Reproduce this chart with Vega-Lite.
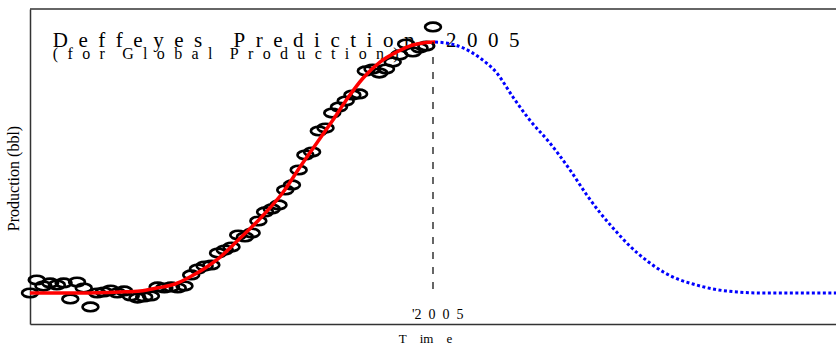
{
  "$schema": "https://vega.github.io/schema/vega-lite/v6.json",
  "width": 806,
  "height": 315,
  "autosize": "none",
  "padding": {"left": 30, "top": 9, "right": 0, "bottom": 21},
  "background": "white",
  "config": {
    "view": {"stroke": null},
    "font": "Liberation Serif",
    "axis": {"domainColor": "#333", "domainWidth": 1.5, "ticks": false, "labels": false, "grid": false, "titleFont": "Liberation Serif", "titleFontWeight": "normal", "titleColor": "black"}
  },
  "datasets": {
    "obs": [
      {"year": 1945, "prod": 9.84}, {"year": 1946, "prod": 13.97}, {"year": 1947, "prod": 12.06}, {"year": 1948, "prod": 13.02},
      {"year": 1949, "prod": 12.38}, {"year": 1950, "prod": 13.02}, {"year": 1951, "prod": 7.94}, {"year": 1952, "prod": 13.33},
      {"year": 1953, "prod": 11.43}, {"year": 1954, "prod": 5.40}, {"year": 1955, "prod": 9.84}, {"year": 1956, "prod": 10.16},
      {"year": 1957, "prod": 10.79}, {"year": 1958, "prod": 9.84}, {"year": 1959, "prod": 10.48}, {"year": 1960, "prod": 8.89},
      {"year": 1961, "prod": 8.25}, {"year": 1962, "prod": 8.57}, {"year": 1963, "prod": 8.89}, {"year": 1964, "prod": 11.75},
      {"year": 1965, "prod": 11.43}, {"year": 1966, "prod": 11.75}, {"year": 1967, "prod": 11.43}, {"year": 1968, "prod": 12.06},
      {"year": 1969, "prod": 15.56}, {"year": 1970, "prod": 17.46}, {"year": 1971, "prod": 18.41}, {"year": 1972, "prod": 18.73},
      {"year": 1973, "prod": 22.54}, {"year": 1974, "prod": 23.49}, {"year": 1975, "prod": 24.44}, {"year": 1976, "prod": 28.25},
      {"year": 1977, "prod": 27.62}, {"year": 1978, "prod": 28.89}, {"year": 1979, "prod": 32.70}, {"year": 1980, "prod": 35.56},
      {"year": 1981, "prod": 36.51}, {"year": 1982, "prod": 37.78}, {"year": 1983, "prod": 42.54}, {"year": 1984, "prod": 44.13},
      {"year": 1985, "prod": 48.89}, {"year": 1986, "prod": 53.65}, {"year": 1987, "prod": 54.60}, {"year": 1988, "prod": 61.27},
      {"year": 1989, "prod": 62.22}, {"year": 1990, "prod": 66.98}, {"year": 1991, "prod": 68.89}, {"year": 1992, "prod": 70.79},
      {"year": 1993, "prod": 72.70}, {"year": 1994, "prod": 73.02}, {"year": 1995, "prod": 80.32}, {"year": 1996, "prod": 80.95},
      {"year": 1997, "prod": 79.68}, {"year": 1998, "prod": 80.95}, {"year": 1999, "prod": 83.17}, {"year": 2000, "prod": 85.40},
      {"year": 2001, "prod": 88.89}, {"year": 2002, "prod": 86.35}, {"year": 2003, "prod": 87.62}, {"year": 2004, "prod": 88.25},
      {"year": 2005, "prod": 94.29}
    ],
    "fit": [
      {"year": 1945.0, "prod": 9.84}, {"year": 1952.4, "prod": 9.84}, {"year": 1958.4, "prod": 10.16}, {"year": 1961.4, "prod": 10.48},
      {"year": 1963.9, "prod": 11.43}, {"year": 1966.6, "prod": 12.70}, {"year": 1968.8, "prod": 14.92}, {"year": 1971.1, "prod": 17.78},
      {"year": 1972.8, "prod": 20.32}, {"year": 1976.0, "prod": 26.67}, {"year": 1979.2, "prod": 33.33}, {"year": 1982.7, "prod": 41.90},
      {"year": 1985.2, "prod": 49.84}, {"year": 1987.7, "prod": 57.46}, {"year": 1990.1, "prod": 64.76}, {"year": 1992.2, "prod": 71.43},
      {"year": 1994.6, "prod": 78.10}, {"year": 1997.1, "prod": 83.17}, {"year": 1999.6, "prod": 86.35}, {"year": 2002.0, "prod": 88.57},
      {"year": 2004.0, "prod": 89.40}, {"year": 2005.3, "prod": 89.52}
    ],
    "pred": [
      {"year": 2005.3, "prod": 89.52}, {"year": 2007.5, "prod": 89.0}, {"year": 2009.5, "prod": 87.62}, {"year": 2012.0, "prod": 84.44},
      {"year": 2014.5, "prod": 79.68}, {"year": 2016.9, "prod": 72.06}, {"year": 2019.4, "prod": 64.76}, {"year": 2022.4, "prod": 57.46},
      {"year": 2025.4, "prod": 48.89}, {"year": 2027.9, "prod": 40.95}, {"year": 2029.9, "prod": 35.24}, {"year": 2031.8, "prod": 30.48},
      {"year": 2034.3, "prod": 24.76}, {"year": 2036.9, "prod": 20.00}, {"year": 2039.3, "prod": 16.51}, {"year": 2041.8, "prod": 13.97},
      {"year": 2043.7, "prod": 12.70}, {"year": 2046.7, "prod": 11.11}, {"year": 2050.3, "prod": 10.16}, {"year": 2054.1, "prod": 9.84},
      {"year": 2059.2, "prod": 9.84}, {"year": 2065.0, "prod": 9.84}
    ],
    "peakline": [{"year": 2005, "top": 89.52, "bottom": 9.84}],
    "frame": [{"prod": 100}]
  },
  "layer": [
    {
      "data": {"values": [{"label": "D\u2002e\u2002f\u2002f\u2002e\u2002y\u2002e\u2002s\u2003\u2002P\u2002r\u2002e\u2002d\u2002i\u2002c\u2002t\u2002i\u2002o\u2002n\u2003\u20022\u20020\u20020\u20025", "year": 1948.4, "prod": 87.94}]},
      "mark": {"type": "text", "align": "left", "baseline": "alphabetic", "fontSize": 21, "font": "Liberation Serif", "color": "black"},
      "encoding": {
        "x": {"field": "year", "type": "quantitative", "scale": {"domain": [1945, 2065], "nice": false, "zero": false}, "axis": {"orient": "bottom", "title": "T\u2003im\u2003e", "titleFontSize": 13, "titlePadding": 8, "titleX": 395}},
        "y": {"field": "prod", "type": "quantitative", "scale": {"domain": [0, 100], "nice": false, "zero": false}, "axis": {"orient": "left", "title": "Production (bbl)", "titleFontSize": 16, "titlePadding": 9, "titleY": 169}},
        "text": {"field": "label"}
      }
    },
    {
      "data": {"values": [{"label": "(\u2002\u200af\u2002\u200ao\u2002\u200ar\u2003\u200aG\u2002\u200al\u2002\u200ao\u2002\u200ab\u2002\u200aa\u2002\u200al\u2003\u200aP\u2002\u200ar\u2002\u200ao\u2002\u200ad\u2002\u200au\u2002\u200ac\u2002\u200at\u2002\u200ai\u2002\u200ao\u2002\u200an\u2002\u200a)", "year": 1948.4, "prod": 83.97}]},
      "mark": {"type": "text", "align": "left", "baseline": "alphabetic", "fontSize": 16, "font": "Liberation Serif", "color": "black"},
      "encoding": {
        "x": {"field": "year", "type": "quantitative"},
        "y": {"field": "prod", "type": "quantitative"},
        "text": {"field": "label"}
      }
    },
    {
      "data": {"values": [{"label": "'2\u20020\u20020\u20025", "year": 2005.7, "prod": 1.59}]},
      "mark": {"type": "text", "align": "center", "baseline": "alphabetic", "fontSize": 14, "font": "Liberation Serif", "color": "black"},
      "encoding": {
        "x": {"field": "year", "type": "quantitative"},
        "y": {"field": "prod", "type": "quantitative"},
        "text": {"field": "label"}
      }
    },
    {
      "data": {"name": "obs"},
      "mark": {"type": "point", "shape": "M-1,0A1,0.54,0,1,0,1,0A1,0.54,0,1,0,-1,0Z", "size": 250, "filled": false, "color": "black", "strokeWidth": 2.7, "opacity": 1},
      "encoding": {
        "x": {"field": "year", "type": "quantitative"},
        "y": {"field": "prod", "type": "quantitative"}
      }
    },
    {
      "data": {"name": "fit"},
      "mark": {"type": "line", "color": "#ff0000", "strokeWidth": 3.5, "interpolate": "monotone"},
      "encoding": {
        "x": {"field": "year", "type": "quantitative"},
        "y": {"field": "prod", "type": "quantitative"}
      }
    },
    {
      "data": {"name": "pred"},
      "mark": {"type": "line", "color": "#0000ff", "strokeWidth": 3, "strokeDash": [3, 2.5], "interpolate": "monotone"},
      "encoding": {
        "x": {"field": "year", "type": "quantitative"},
        "y": {"field": "prod", "type": "quantitative"}
      }
    },
    {
      "data": {"name": "peakline"},
      "mark": {"type": "rule", "color": "black", "strokeWidth": 1.2, "strokeDash": [7, 8]},
      "encoding": {
        "x": {"field": "year", "type": "quantitative"},
        "y": {"field": "top", "type": "quantitative"},
        "y2": {"field": "bottom"}
      }
    },
    {
      "data": {"name": "frame"},
      "mark": {"type": "rule", "color": "#333", "strokeWidth": 1.5},
      "encoding": {
        "y": {"field": "prod", "type": "quantitative"}
      }
    }
  ]
}
